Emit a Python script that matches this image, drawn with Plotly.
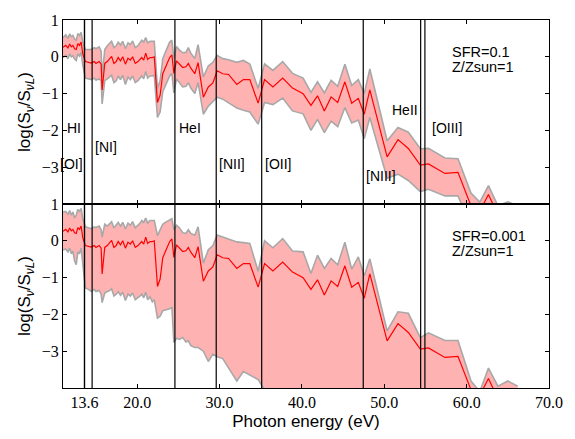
import plotly.graph_objects as go
from plotly.subplots import make_subplots

# Photon energy grid (eV)
energy = [11.0, 11.33, 11.6, 11.81, 12.01, 12.2, 12.41, 12.61, 12.8, 13.0, 13.2, 13.4,
          13.72, 14.1, 14.44, 14.79, 15.0, 15.39, 15.63, 15.75, 16.07, 16.38, 16.67, 16.9,
          17.18, 17.46, 17.7, 17.98, 18.25, 18.58, 18.89, 19.17, 19.45, 19.77, 20.1, 20.36,
          20.56, 20.8, 21.04, 21.28, 21.56, 21.84, 22.08, 22.47, 22.79, 23.11, 23.42, 23.95,
          24.22, 24.46, 24.78, 25.15, 25.53, 25.93, 26.21, 26.52, 27.0, 27.4, 28.04, 28.64,
          29.2, 29.71, 30.39, 31.1, 32.1, 32.9, 33.68, 34.69, 35.47, 36.48, 37.67, 38.86,
          40.15, 41.1, 41.9, 42.73, 43.55, 44.35, 45.22, 46.05, 46.85, 47.57, 48.25, 50.35,
          51.67, 52.92, 54.38, 55.37, 57.36, 58.95, 60.53, 61.6, 62.65, 63.8, 65.0, 66.2]

# Median log(S_nu / S_nuL)
median = [0.26, 0.31, 0.24, 0.35, 0.27, 0.31, 0.22, 0.20, 0.36, 0.31, 0.40, 0.08,
          -0.13, -0.15, -0.17, -0.13, -0.18, -0.13, -0.20, -0.90, -0.18, -0.13, -0.06, 0.01,
          -0.18, -0.13, -0.02, -0.11, 0.0, -0.20, -0.04, -0.09, 0.0, -0.18, -0.13, -0.06,
          -0.02, -0.09, 0.10, -0.07, -0.02, -0.02, 0.0, -1.24, -1.04, -0.46, -0.29, -0.02,
          0.05, -0.45, -0.11, -0.20, -0.29, -0.27, -0.18, -0.31, -0.46, -0.16, -1.10, -0.82,
          -0.71, -0.38, -0.46, -0.48, -0.75, -0.62, -0.62, -1.26, -0.62, -0.82, -0.58, -0.85,
          -1.00, -1.32, -1.06, -1.47, -1.09, -1.24, -0.68, -1.26, -1.13, -1.56, -0.90, -2.72,
          -2.25, -2.49, -2.94, -2.91, -3.17, -3.14, -4.05, -4.20, -3.74, -4.30, -4.30, -4.40]

# Scatter envelope, SFR = 0.1
upper_sfr_01 = [0.52, 0.60, 0.50, 0.62, 0.55, 0.58, 0.48, 0.45, 0.63, 0.58, 0.66, 0.40,
                0.20, 0.20, 0.20, 0.25, 0.22, 0.27, 0.15, -0.55, 0.20, 0.30, 0.38, 0.42,
                0.25, 0.30, 0.40, 0.32, 0.42, 0.22, 0.38, 0.33, 0.43, 0.25, 0.30, 0.40,
                0.45, 0.40, 0.52, 0.38, 0.42, 0.42, 0.42, -0.86, -0.65, -0.05, 0.12, 0.40,
                0.45, -0.05, 0.28, 0.18, 0.11, 0.12, 0.25, 0.10, -0.05, 0.33, -0.55, -0.25,
                -0.15, 0.04, -0.05, -0.08, -0.15, -0.10, -0.20, -0.86, -0.19, -0.37, -0.13, -0.45,
                -0.58, -0.97, -0.68, -0.98, -0.64, -0.80, -0.20, -0.78, -0.62, -1.00, -0.33, -2.28,
                -1.92, -2.05, -2.50, -2.49, -2.75, -2.77, -3.70, -3.95, -3.50, -4.05, -3.94, -4.05]
lower_sfr_01 = [-0.02, 0.04, -0.05, 0.08, 0.0, 0.03, -0.06, -0.10, 0.08, 0.02, 0.12, -0.22,
                -0.58, -0.60, -0.62, -0.58, -0.63, -0.60, -0.65, -1.28, -0.65, -0.60, -0.55, -0.50,
                -0.70, -0.65, -0.52, -0.62, -0.50, -0.75, -0.55, -0.62, -0.52, -0.70, -0.65, -0.58,
                -0.52, -0.60, -0.40, -0.58, -0.52, -0.52, -0.50, -1.65, -1.50, -0.95, -0.78, -0.52,
                -0.45, -0.98, -0.60, -0.70, -0.82, -0.80, -0.70, -0.85, -1.00, -0.70, -1.56, -1.34,
                -1.22, -1.10, -1.15, -1.25, -1.39, -1.45, -1.50, -1.83, -1.24, -1.30, -1.12, -1.47,
                -1.55, -2.00, -1.70, -2.06, -1.75, -1.90, -1.38, -1.80, -1.72, -2.22, -1.65, -3.30,
                -3.19, -3.36, -3.66, -3.60, -3.78, -3.78, -4.60, -4.70, -4.30, -4.80, -4.80, -4.90]

# Scatter envelope, SFR = 0.001
upper_sfr_0001 = [0.78, 0.80, 0.72, 0.82, 0.70, 0.78, 0.62, 0.70, 0.85, 0.80, 0.88, 0.60,
                  0.38, 0.36, 0.33, 0.38, 0.36, 0.40, 0.30, 0.10, 0.45, 0.40, 0.48, 0.52,
                  0.35, 0.42, 0.50, 0.40, 0.50, 0.32, 0.48, 0.42, 0.52, 0.35, 0.42, 0.48,
                  0.55, 0.50, 0.62, 0.48, 0.55, 0.55, 0.55, 0.14, 0.30, 0.45, 0.50, 0.58,
                  0.60, 0.30, 0.42, 0.35, 0.22, 0.20, 0.30, 0.20, 0.15, 0.38, -0.61, -0.24,
                  -0.13, 0.16, 0.10, 0.05, -0.03, -0.05, -0.07, -0.83, 0.0, -0.19, 0.06, -0.28,
                  -0.30, -0.89, -0.39, -0.75, -0.48, -0.65, -0.04, -0.77, -0.44, -0.95, -0.49, -2.45,
                  -1.93, -1.97, -2.63, -2.50, -2.71, -2.71, -3.81, -4.10, -3.46, -3.95, -3.81, -3.95]
lower_sfr_0001 = [-0.25, -0.22, -0.30, -0.20, -0.35, -0.28, -0.55, -0.65, -0.30, -0.35, -0.20, -0.70,
                  -1.28, -1.32, -1.38, -1.32, -1.38, -1.35, -1.45, -1.68, -1.42, -1.38, -1.35, -1.30,
                  -1.50, -1.45, -1.38, -1.48, -1.40, -1.62, -1.45, -1.50, -1.42, -1.60, -1.55, -1.50,
                  -1.45, -1.55, -1.40, -1.60, -1.52, -1.66, -1.60, -2.10, -2.05, -1.90, -1.88, -1.85,
                  -1.80, -2.76, -2.65, -2.68, -2.63, -2.75, -2.72, -2.85, -2.90, -2.90, -3.00, -3.28,
                  -3.08, -3.15, -3.20, -3.45, -3.81, -3.55, -3.65, -3.77, -4.05, -4.10, -4.20, -4.30,
                  -4.40, -4.50, -4.50, -4.60, -4.60, -4.70, -4.70, -4.80, -4.80, -4.90, -4.90, -5.0,
                  -5.0, -5.0, -5.0, -5.0, -5.0, -5.0, -5.0, -5.0, -5.0, -5.0, -5.0, -5.0]

# Ionisation edges (eV) and their labels
edge_energy = [13.6, 13.618, 14.534, 24.587, 29.601, 35.121, 47.449, 54.418, 54.936]
edge_label = ["HI", "[OI]", "[NI]", "HeI", "[NII]", "[OII]", "[NIII]", "HeII", "[OIII]"]
edge_label_y = [-1.94, -2.92, -2.44, -1.94, -2.92, -2.92, -3.23, -1.44, -1.94]
edge_label_side = ["right", "right", "left", "left", "left", "left", "left", "right", "left"]
edge_label_shift = [-1, 0, 1, 2, 1, 1, 1, -1, 5]

x_tick_vals = [13.6, 20, 30, 40, 50, 60, 70]
x_tick_text = ["13.6", "20.0", "30.0", "40.0", "50.0", "60.0", "70.0"]
y_tick_vals = [-3, -2, -1, 0, 1]
y_tick_text = ["\u22123", "\u22122", "\u22121", "0", "1"]

panels = [
    ("SFR=0.1", upper_sfr_01, lower_sfr_01),
    ("SFR=0.001", upper_sfr_0001, lower_sfr_0001),
]

SANS = "Liberation Sans, Arial, sans-serif"
SERIF = "Liberation Serif, DejaVu Serif, serif"

fig = make_subplots(rows=2, cols=1, shared_xaxes=True, vertical_spacing=0)

for row, (sfr_text, upper, lower) in enumerate(panels, start=1):
    fig.add_trace(go.Scatter(x=energy, y=lower, mode="lines",
                             line=dict(color="#a8a8a8", width=1.6),
                             showlegend=False, hoverinfo="skip"), row=row, col=1)
    fig.add_trace(go.Scatter(x=energy, y=upper, mode="lines", fill="tonexty",
                             fillcolor="rgba(255,0,0,0.3)",
                             line=dict(color="#a8a8a8", width=1.6),
                             showlegend=False, hoverinfo="skip"), row=row, col=1)
    fig.add_trace(go.Scatter(x=energy, y=median, mode="lines",
                             line=dict(color="#ff0000", width=1.2),
                             showlegend=False), row=row, col=1)
    yref = "y" if row == 1 else "y2"
    xref = "x" if row == 1 else "x2"
    fig.add_annotation(x=58.0, y=0.14, xref=xref, yref=yref, text=sfr_text,
                       showarrow=False, xanchor="left", yanchor="middle",
                       font=dict(family=SANS, size=14.5, color="black"))
    fig.add_annotation(x=58.0, y=-0.29, xref=xref, yref=yref, text="Z/Zsun=1",
                       showarrow=False, xanchor="left", yanchor="middle",
                       font=dict(family=SANS, size=14.5, color="black"))

# Vertical edge markers through both panels
for e in edge_energy:
    fig.add_shape(type="line", xref="x", yref="paper", x0=e, x1=e, y0=0, y1=1,
                  line=dict(color="black", width=1.2), layer="above")

# Edge labels in the upper panel
for e, lab, ly, side, sh in zip(edge_energy, edge_label, edge_label_y,
                                edge_label_side, edge_label_shift):
    fig.add_annotation(x=e, y=ly, xref="x", yref="y", text=lab, showarrow=False,
                       xanchor=side, yanchor="middle", xshift=sh,
                       font=dict(family=SANS, size=14, color="black"))

axis_common = dict(showline=True, linecolor="black", linewidth=1, mirror="allticks",
                   ticks="inside", ticklen=4, tickcolor="black", tickwidth=1,
                   showgrid=False, zeroline=False)

fig.update_xaxes(range=[11, 70], tickvals=x_tick_vals, ticktext=x_tick_text,
                 tickfont=dict(family=SERIF, size=16, color="black"), **axis_common)
fig.update_xaxes(showticklabels=False, row=1, col=1)
fig.update_xaxes(title=dict(text="Photon energy (eV)", standoff=4,
                            font=dict(family=SANS, size=17, color="black")), row=2, col=1)

fig.update_yaxes(range=[-4, 1], tickvals=y_tick_vals, ticktext=y_tick_text,
                 tickfont=dict(family=SERIF, size=16, color="black"),
                 title=dict(text="log(S<sub><i>\u03bd</i></sub>/S<sub><i>\u03bdL</i></sub>)",
                            standoff=6, font=dict(family=SANS, size=17, color="black")),
                 **axis_common)

fig.update_layout(width=575, height=439, margin=dict(l=63, r=18, t=14, b=42),
                  plot_bgcolor="white", paper_bgcolor="white", showlegend=False)

fig.write_html("out.html")
